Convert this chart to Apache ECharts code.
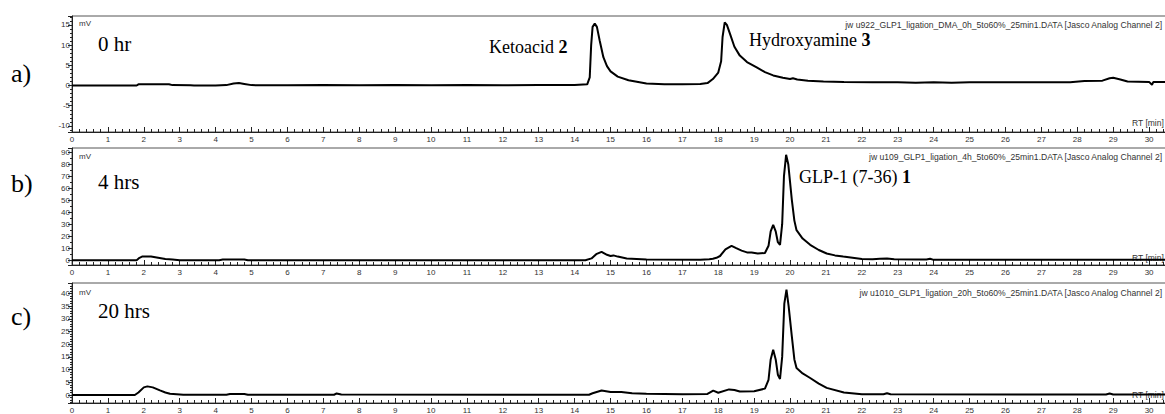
<!DOCTYPE html>
<html>
<head>
<meta charset="utf-8">
<script src="https://cdn.jsdelivr.net/npm/echarts@6/dist/echarts.min.js"></script>
<style>
html,body{margin:0;padding:0;background:#fff;}
#chart{width:1165px;height:414px;}
</style>
</head>
<body>
<div id="chart"></div>
<script>
// ---- Data (retention time in min, signal in mV) ----
const panelLetters = ['a)', 'b)', 'c)'];
const panelTimes = ['0 hr', '4 hrs', '20 hrs'];
const fileNames = [
  'jw u922_GLP1_ligation_DMA_0h_5to60%_25min1.DATA [Jasco Analog Channel 2]',
  'jw u109_GLP1_ligation_4h_5to60%_25min1.DATA [Jasco Analog Channel 2]',
  'jw u1010_GLP1_ligation_20h_5to60%_25min1.DATA [Jasco Analog Channel 2]'
];
const xTickStep = 1;
const xLabelMax = 30;
const yTickSteps = [5, 10, 5];
const yRanges = [[-11.5, 17.2], [-4, 93.5], [-3.15, 44.1]];
const xRange = [0, 31];

const timesA = [0,1.8,1.85,2.7,2.8,3.3,3.4,4.0,4.3,4.5,4.65,4.8,5.0,6,7,8,9,10,11,12,13,14.0,14.35,14.42,14.46,14.5,14.56,14.62,14.7,14.8,14.9,15.0,15.2,15.5,16.0,16.5,17.0,17.5,17.7,17.85,18.0,18.08,18.12,18.18,18.24,18.33,18.45,18.6,18.8,19.07,19.3,19.53,19.8,20.0,20.08,20.2,20.5,20.93,21.5,22.3,23,23.5,24,24.5,25,26,27,27.8,28.2,28.7,28.9,29.0,29.2,29.4,30.0,30.08,30.12,31];
const valuesA = [0,0,0.3,0.3,0.1,0.05,0,0,0.1,0.5,0.6,0.4,0.1,0.05,0.1,0.05,0.1,0.05,0.1,0.05,0.1,0.1,0.3,2,10,14.5,15.3,14.5,11,7,4.8,3.5,2.2,1.3,0.5,0.3,0.3,0.4,0.6,1.6,3.2,6,12,15.6,15.0,12.7,9.6,7.4,5.8,4.5,3.3,2.5,1.9,1.6,1.8,1.5,1.2,1.0,0.9,0.8,0.8,0.7,0.8,0.7,0.8,0.8,0.8,0.8,1.1,1.2,1.8,1.9,1.5,1.0,0.9,0.2,0.9,0.9];

const timesB = [0,1.8,1.88,1.95,2.2,2.4,2.6,2.8,3.0,4.1,4.2,4.8,4.9,14.3,14.47,14.6,14.75,14.9,15.0,15.08,15.2,15.45,16,17.5,17.75,17.85,17.95,18.05,18.2,18.37,18.5,18.65,18.8,18.93,19.1,19.3,19.4,19.46,19.53,19.6,19.66,19.72,19.78,19.83,19.89,19.95,20.05,20.12,20.18,20.35,20.56,20.8,21.02,21.25,21.48,22.0,22.3,22.5,22.7,22.9,23.5,23.8,23.9,24.0,31];
const valuesB = [0,0,2,3,3,2,1,0.5,0,0,0.6,0.6,0,0,1.5,5,7,4.5,3.5,4,3,1.5,0.5,0.3,0.8,1.2,2,3.5,9,11.9,10,8,6.5,6.4,5.5,6,12,24,29.4,24,15,12.8,30,70,87.8,80,50,33,25,18,12.8,8.5,5.6,4,3,1,0.8,1.3,1.5,0.8,0.5,0.6,1.2,0.3,0.3];

const timesC = [0,1.75,1.85,2.0,2.1,2.25,2.45,2.6,2.73,3.1,4.3,4.4,4.8,4.9,7.3,7.37,7.5,14.4,14.5,14.75,15.0,15.3,15.6,16.0,17.0,17.7,17.86,18.0,18.3,18.45,18.6,19.0,19.3,19.4,19.46,19.53,19.6,19.66,19.72,19.78,19.84,19.9,19.96,20.05,20.12,20.18,20.35,20.56,20.8,21.02,21.5,22.0,22.6,22.7,22.8,28.8,28.9,29.0,31];
const valuesC = [0,0,1,3,3.4,3,1.8,1,0.5,0.1,0.1,0.4,0.4,0.1,0.1,0.6,0.2,0.1,0.7,1.8,1.2,1.2,0.7,0.5,0.3,0.4,1.7,0.9,2.2,2.0,1.4,1.5,2.5,6,14,17.8,14,8,6.3,15,36,41.5,35,23,14,10.6,8.5,6.7,4.5,2.8,1,0.3,0.3,0.7,0.3,0.2,0.6,0.2,0.2];

const seriesTimes = [timesA, timesB, timesC];
const seriesValues = [valuesA, valuesB, valuesC];

// ---- Layout ----
const grids = [
  {left: 72, top: 16, width: 1113, height: 116},
  {left: 72, top: 148, width: 1113, height: 117},
  {left: 72, top: 283, width: 1113, height: 120}
];
const axisColor = '#222';
const sans = 'Liberation Sans, Arial, sans-serif';
const serif = 'Liberation Serif, Times New Roman, serif';

function multipleFormatter(step, maxShown) {
  return function (v) {
    const r = v / step;
    if (maxShown != null && v > maxShown + 1e-6) return '';
    return Math.abs(r - Math.round(r)) < 1e-6 ? String(Math.round(v)) : '';
  };
}

const option = {
  animation: false,
  backgroundColor: '#fff',
  grid: grids.map(g => Object.assign({show: true, borderColor: '#555', borderWidth: 1, backgroundColor: 'transparent', containLabel: false, outerBoundsMode: 'none'}, g)),
  xAxis: grids.map((g, i) => ({
    gridIndex: i, type: 'value', min: xRange[0], max: xRange[1], interval: xTickStep,
    axisLine: {show: true, onZero: false, lineStyle: {color: axisColor, width: 1}},
    axisTick: {show: true, inside: true, length: 5, lineStyle: {color: axisColor}},
    minorTick: {show: true, splitNumber: 5, length: 3, lineStyle: {color: axisColor}},
    axisLabel: {fontSize: 8, color: '#333', margin: 3, fontFamily: sans, formatter: multipleFormatter(xTickStep, xLabelMax)},
    splitLine: {show: false}
  })),
  yAxis: grids.map((g, i) => ({
    gridIndex: i, type: 'value', min: yRanges[i][0], max: yRanges[i][1],
    minInterval: yTickSteps[i], maxInterval: yTickSteps[i], splitNumber: 6,
    axisLine: {show: true, lineStyle: {color: axisColor, width: 1}},
    axisTick: {show: true, length: 4, lineStyle: {color: axisColor}},
    minorTick: {show: true, splitNumber: i === 1 ? 2 : 5, length: 2, lineStyle: {color: axisColor}},
    axisLabel: {fontSize: 8, color: '#333', margin: 2, fontFamily: sans, formatter: multipleFormatter(yTickSteps[i])},
    splitLine: {show: false}
  })),
  series: seriesTimes.map((ts, i) => ({
    type: 'line', xAxisIndex: i, yAxisIndex: i,
    data: ts.map((t, k) => [t, seriesValues[i][k]]),
    showSymbol: false, symbol: 'none', smooth: false,
    lineStyle: {color: '#000', width: 2},
    clip: true
  })),
  graphic: []
};

const letterY = [75, 185, 318];
const timeY = [45, 183, 312];
const mvY = [24, 157, 293];
const fileY = [25, 157, 293];
const rtY = [123, 258, 395];
for (let i = 0; i < 3; i++) {
  option.graphic.push({type: 'text', left: 11, top: letterY[i] - 15, style: {text: panelLetters[i], font: '26px ' + serif, fill: '#000'}});
  option.graphic.push({type: 'text', left: 98, top: timeY[i] - 12, style: {text: panelTimes[i], font: '21px ' + serif, fill: '#000'}});
  option.graphic.push({type: 'text', left: 79, top: mvY[i] - 5, style: {text: 'mV', font: '8px ' + sans, fill: '#333'}});
  option.graphic.push({type: 'text', right: 2, top: fileY[i] - 5, style: {text: fileNames[i], font: '8.6px ' + sans, fill: '#333'}});
  option.graphic.push({type: 'text', right: 1, top: rtY[i] - 5, style: {text: 'RT [min]', font: '8.5px ' + sans, fill: '#333'}});
}
option.graphic.push({type: 'text', left: 489, top: 38, style: {text: 'Ketoacid {b|2}', font: '18px ' + serif, fill: '#000', rich: {b: {fontWeight: 'bold', fontSize: 18, fontFamily: serif}}}});
option.graphic.push({type: 'text', left: 749, top: 31, style: {text: 'Hydroxyamine {b|3}', font: '18px ' + serif, fill: '#000', rich: {b: {fontWeight: 'bold', fontSize: 18, fontFamily: serif}}}});
option.graphic.push({type: 'text', left: 799, top: 168, style: {text: 'GLP-1 (7-36) {b|1}', font: '18px ' + serif, fill: '#000', rich: {b: {fontWeight: 'bold', fontSize: 18, fontFamily: serif}}}});

const chart = echarts.init(document.getElementById('chart'), null, {renderer: 'svg'});
chart.setOption(option);
</script>
</body>
</html>
